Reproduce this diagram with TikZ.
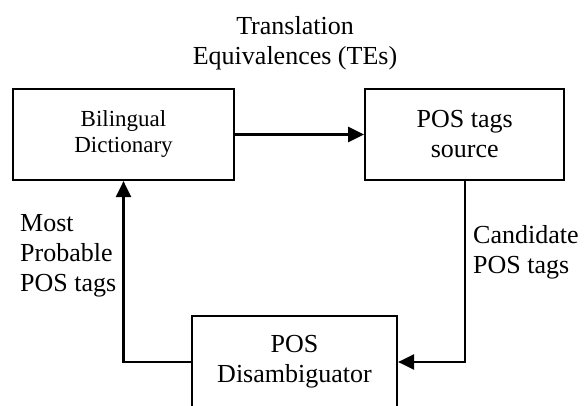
\documentclass[tikz,border=0pt]{standalone}
\usepackage{fontspec}
\setmainfont{Liberation Serif}
\usetikzlibrary{positioning,arrows.meta}

\begin{document}
\begin{tikzpicture}[x=1pt, y=1pt, node distance=129pt, auto,
		box/.style={draw, line width=2.2pt, align=center, minimum height=91pt, inner sep=0pt},
		txt/.style={font=\fontsize{26}{30}\selectfont},
		lbl/.style={txt, align=left, inner sep=0pt, anchor=west},
		flow/.style={->, line width=2.4pt},
		>={Triangle[length=16pt, width=15pt]}]
		\useasboundingbox (0,0) rectangle (584,405);
		
		\node [box, minimum width=221pt, font=\fontsize{23}{26}\selectfont] (dict) at (123.5,270.5) {Bilingual\\Dictionary};
		\node [box, txt, minimum width=199pt, right=of dict] (src) {POS tags\\source};
		\node [box, txt, minimum width=205pt, minimum height=92pt] (dis) at (294.5,43) {POS\\Disambiguator};
		\node [txt, align=center] (title) at (295,362) {Translation\\Equivalences (TEs)};
		\node [lbl] (most) at (20,149) {Most\\Probable\\POS tags};
		\node [lbl] (cand) at (473,153) {Candidate\\POS tags};
		
		\draw[flow]
		(dict) -- (src);
		\draw[flow]
		(src) |- (dis);
		\draw[flow]
		(dis) -| (dict);
		
		\end{tikzpicture}
\end{document}
